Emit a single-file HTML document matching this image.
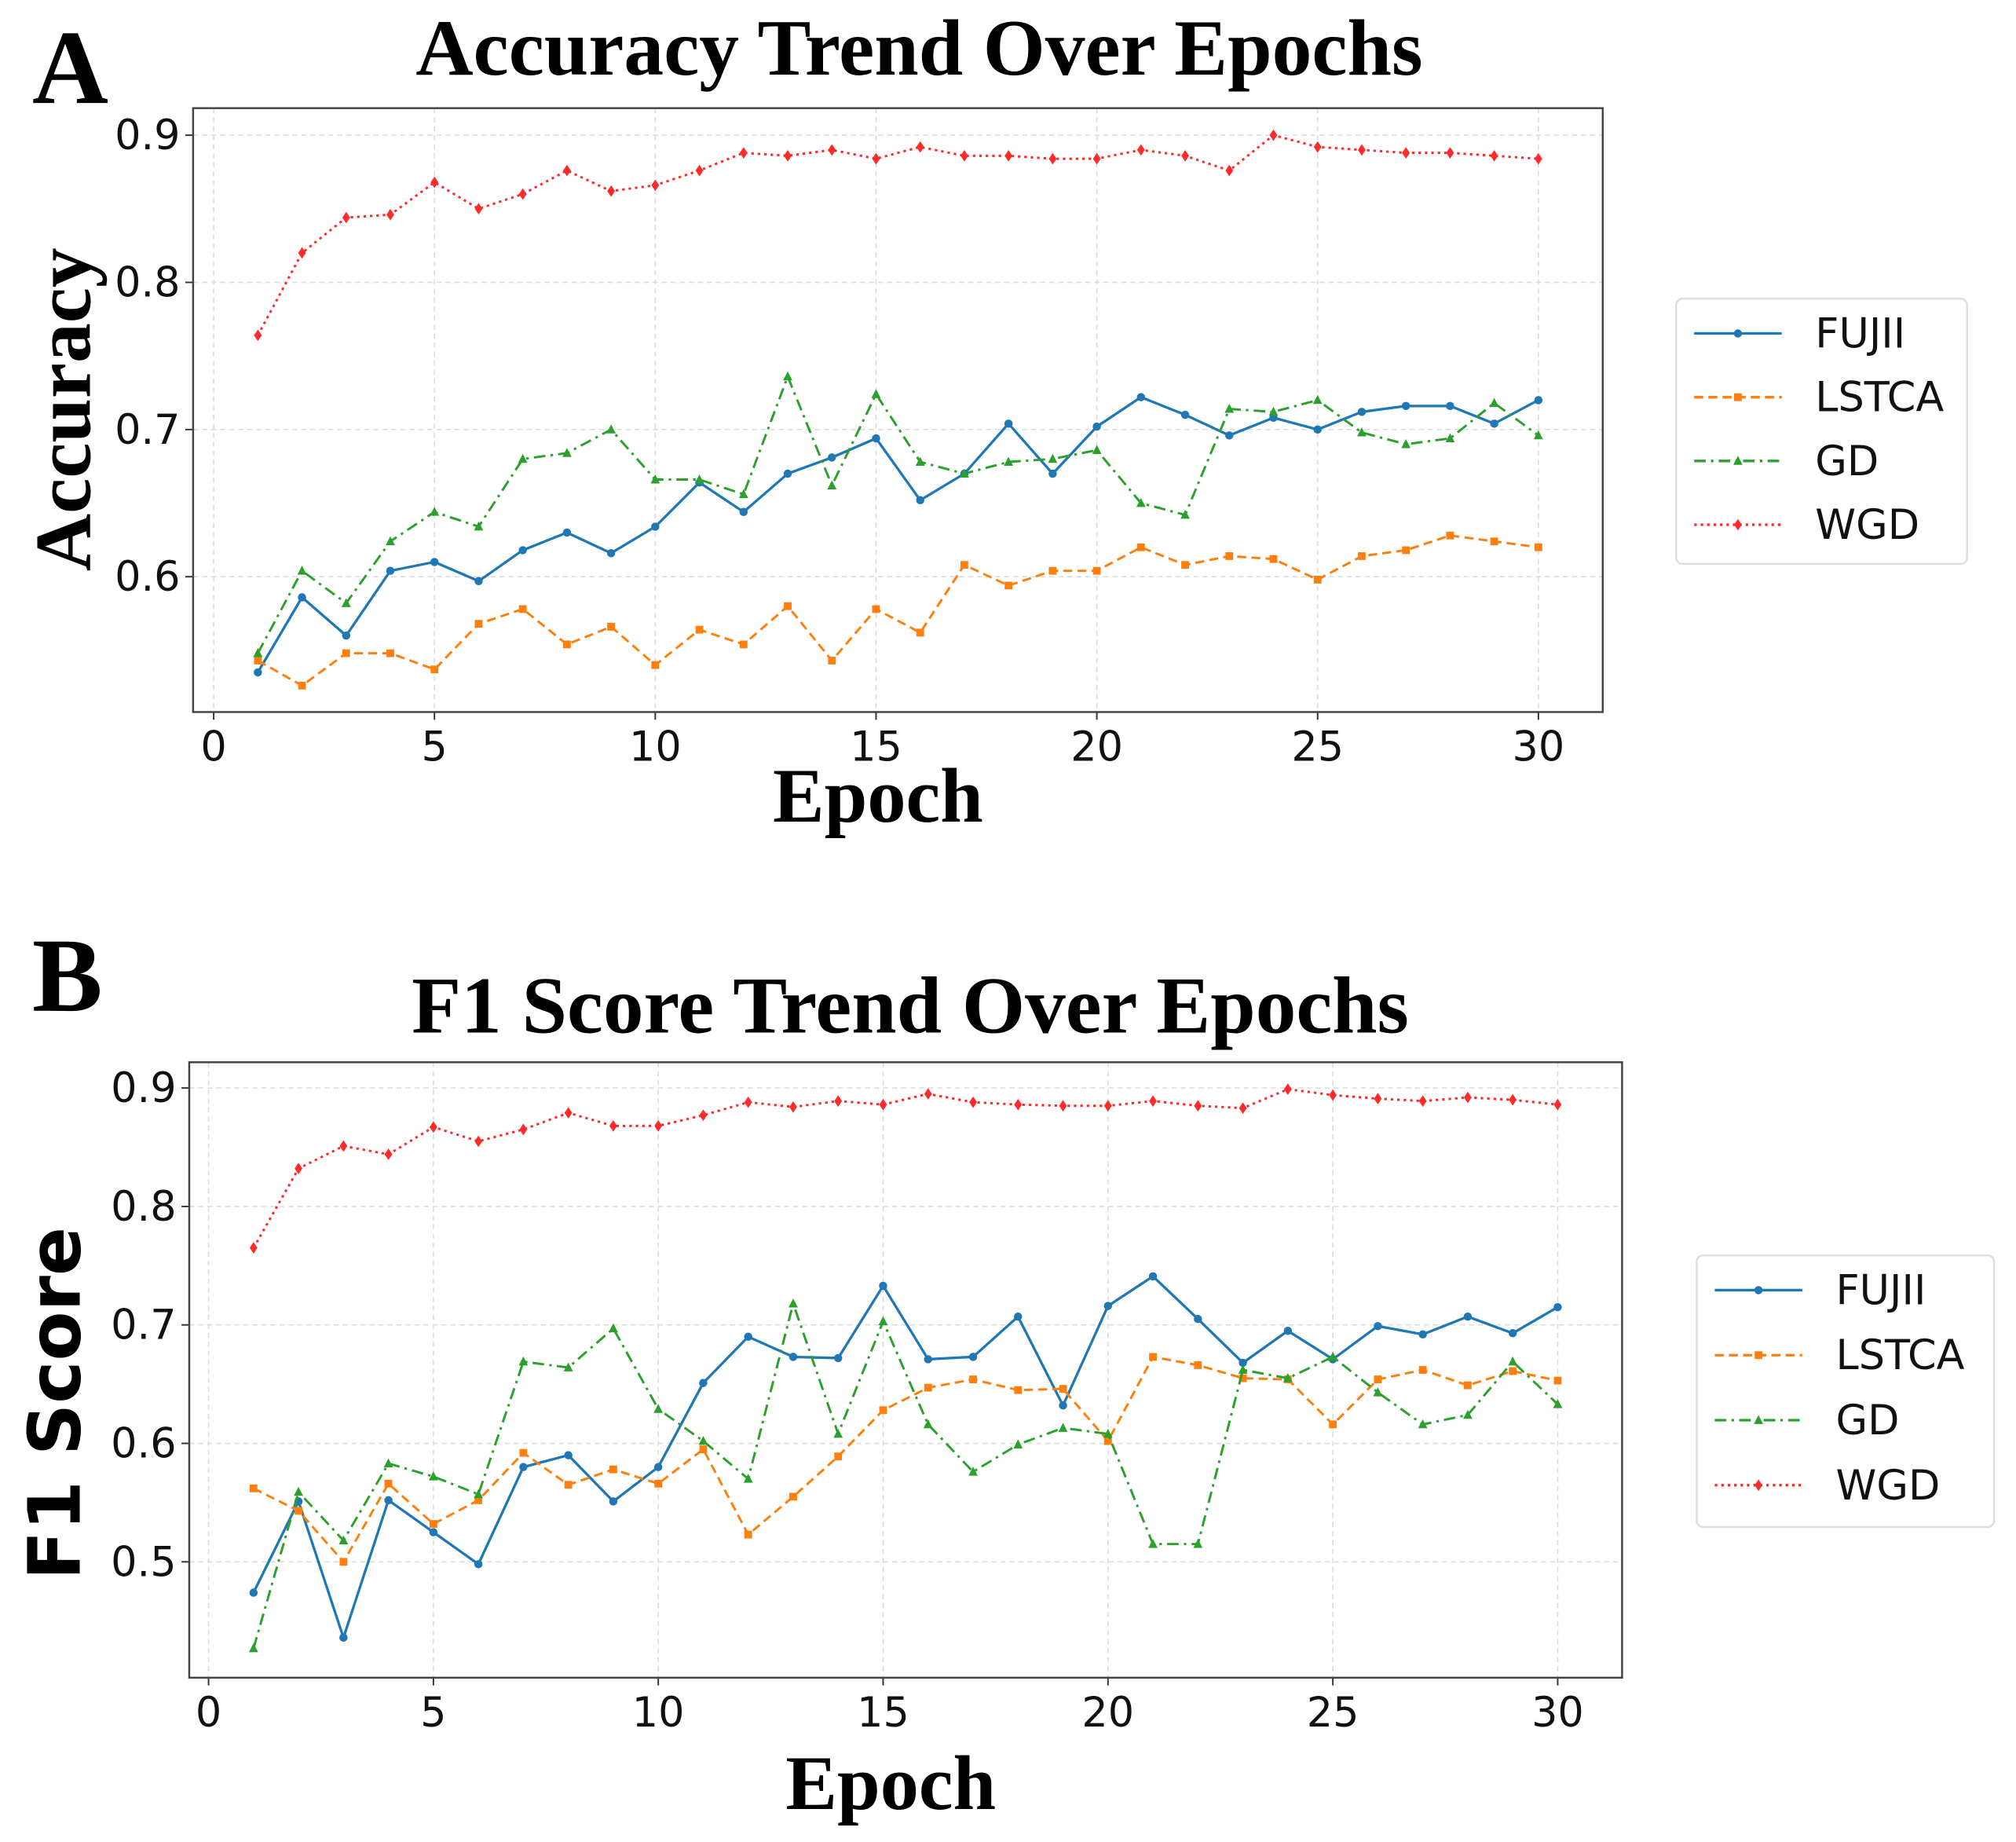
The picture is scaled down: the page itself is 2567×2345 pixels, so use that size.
<!DOCTYPE html>
<html><head><meta charset="utf-8"><style>
html,body{margin:0;padding:0;background:#fff;width:2567px;height:2345px;overflow:hidden}
svg{display:block}
.tk{font-family:"DejaVu Sans","Liberation Sans",sans-serif;font-size:32px;fill:#111}
.lg{font-family:"DejaVu Sans","Liberation Sans",sans-serif;font-size:32px;fill:#111}
.ser{font-family:"Liberation Serif",serif;font-weight:bold;fill:#000}
</style></head><body>
<svg id="fig" width="2567" height="2345" viewBox="0 0 1566 1430.6" preserveAspectRatio="none" xmlns="http://www.w3.org/2000/svg">
<rect width="1566" height="1431" fill="#fff"/>
<text class="ser" x="25" y="80" font-size="82">A</text>
<text class="ser" x="714" y="58" font-size="62" text-anchor="middle">Accuracy Trend Over Epochs</text>
<text class="ser" x="0" y="0" font-size="62" text-anchor="middle" transform="translate(70,318) rotate(-90)">Accuracy</text>
<text class="ser" x="682" y="638" font-size="60" text-anchor="middle">Epoch</text>
<text class="ser" x="25" y="785" font-size="82">B</text>
<text class="ser" x="707" y="802" font-size="63" text-anchor="middle">F1 Score Trend Over Epochs</text>
<text x="0" y="0" font-size="56" font-weight="bold" font-family="DejaVu Sans, sans-serif" text-anchor="middle" transform="translate(62,1090) rotate(-90)">F1 Score</text>
<text class="ser" x="692" y="1405" font-size="60" text-anchor="middle">Epoch</text>
<g id="A"></g><g id="B"></g>
</svg>
<script>
const epochs = Array.from({length:30},(_,i)=>i+1);
const seriesNames = ["FUJII","LSTCA","GD","WGD"];
const accFUJII=[.535,.586,.56,.604,.61,.597,.618,.63,.616,.634,.664,.644,.67,.681,.694,.652,.67,.704,.67,.702,.722,.71,.696,.708,.7,.712,.716,.716,.704,.72];
const accLSTCA=[.543,.526,.548,.548,.537,.568,.578,.554,.566,.54,.564,.554,.58,.543,.578,.562,.608,.594,.604,.604,.62,.608,.614,.612,.598,.614,.618,.628,.624,.62];
const accGD=[.548,.604,.582,.624,.644,.634,.68,.684,.7,.666,.666,.656,.736,.662,.724,.678,.67,.678,.68,.686,.65,.642,.714,.712,.72,.698,.69,.694,.718,.696];
const accWGD=[.764,.82,.844,.846,.868,.85,.86,.876,.862,.866,.876,.888,.886,.89,.884,.892,.886,.886,.884,.884,.89,.886,.876,.9,.892,.89,.888,.888,.886,.884];
const f1FUJII=[.474,.551,.436,.552,.525,.498,.580,.590,.551,.580,.651,.690,.673,.672,.733,.671,.673,.707,.632,.716,.741,.705,.668,.695,.671,.699,.692,.707,.693,.715];
const f1LSTCA=[.562,.543,.500,.566,.532,.552,.592,.565,.578,.566,.595,.523,.555,.589,.628,.647,.654,.645,.646,.602,.673,.666,.655,.654,.616,.654,.662,.649,.661,.653];
const f1GD=[.427,.559,.518,.583,.572,.557,.669,.664,.697,.629,.602,.570,.718,.608,.703,.616,.576,.599,.613,.608,.515,.515,.662,.655,.673,.643,.616,.624,.669,.633];
const f1WGD=[.765,.832,.851,.844,.867,.855,.865,.879,.868,.868,.877,.888,.884,.889,.886,.895,.888,.886,.885,.885,.889,.885,.883,.899,.894,.891,.889,.892,.890,.886];
const xTicks=[0,5,10,15,20,25,30];
const yTicksA=[0.6,0.7,0.8,0.9];
const yTicksB=[0.5,0.6,0.7,0.8,0.9];
const NS="http://www.w3.org/2000/svg";
const colors=["#1f77b4","#ff7f0e","#2ca02c","#ff2a2a"];
const dashes=["","7,4","9,4,2,4","2,3"];
function mk(p,tag,at){const e=document.createElementNS(NS,tag);for(const k in at)e.setAttribute(k,at[k]);p.appendChild(e);return e;}
function marker(g,c,x,y,k){
  if(k===0)return mk(g,"circle",{cx:x,cy:y,r:3.2,fill:c});
  if(k===1)return mk(g,"rect",{x:x-3,y:y-3,width:6,height:6,fill:c});
  if(k===2)return mk(g,"polygon",{points:`${x},${y-4} ${x-3.6},${y+3} ${x+3.6},${y+3}`,fill:c});
  return mk(g,"polygon",{points:`${x},${y-4.5} ${x+3},${y} ${x},${y+4.5} ${x-3},${y}`,fill:c});
}
function draw(id,cfg,data,yTicks){
  const g=document.getElementById(id);
  const X=e=>cfg.x0+e*(cfg.x30-cfg.x0)/30;
  const Y=v=>cfg.yTop+(cfg.vTop-v)*cfg.k;
  for(const t of xTicks){
    const l=mk(g,"line",{x1:X(t),x2:X(t),y1:cfg.t,y2:cfg.b,stroke:"#ddd","stroke-width":1,"stroke-dasharray":"4,3"});
    
    
    mk(g,"line",{x1:X(t),x2:X(t),y1:cfg.b,y2:cfg.b+6,stroke:"#333","stroke-width":1.2});
    const tx=mk(g,"text",{x:X(t),y:cfg.b+38,"text-anchor":"middle",class:"tk"});tx.textContent=t;
    
    
  }
  for(const t of yTicks){
    const l=mk(g,"line",{x1:cfg.l,x2:cfg.r,y1:Y(t),y2:Y(t),stroke:"#ddd","stroke-width":1,"stroke-dasharray":"4,3"});
    
    
    mk(g,"line",{x1:cfg.l-6,x2:cfg.l,y1:Y(t),y2:Y(t),stroke:"#333","stroke-width":1.2});
    const tx=mk(g,"text",{x:cfg.l-10,y:Y(t)+11,"text-anchor":"end",class:"tk"});tx.textContent=t.toFixed(1);
    
    
  }
  const fr=mk(g,"rect",{x:cfg.l,y:cfg.t,width:cfg.r-cfg.l,height:cfg.b-cfg.t,fill:"none",stroke:"#444","stroke-width":1.5});
  
  
  data.forEach((arr,k)=>{
    const sg=mk(g,"g",{});
    
    
    const pts=arr.map((v,i)=>X(epochs[i])+","+Y(v)).join(" ");
    const pl=mk(sg,"polyline",{points:pts,fill:"none",stroke:colors[k],"stroke-width":k===0?2:1.8,"stroke-dasharray":dashes[k]});
    
    
    arr.forEach((v,i)=>{const m=marker(sg,colors[k],X(epochs[i]),Y(v),k);
      
      });
  });
  const lg=mk(g,"g",{});
  
  
  mk(lg,"rect",{x:cfg.lgx,y:cfg.lgy,width:cfg.lgw,height:cfg.lgh,rx:5,fill:"#fff",stroke:"#ddd","stroke-width":1.5});
  seriesNames.forEach((n,k)=>{
    const yy=cfg.lgy+27+k*cfg.lgs;
    const e=mk(lg,"g",{});
    
    
    mk(e,"line",{x1:cfg.lgx+14,x2:cfg.lgx+82,y1:yy,y2:yy,stroke:colors[k],"stroke-width":2,"stroke-dasharray":dashes[k]});
    marker(e,colors[k],cfg.lgx+48,yy,k);
    const t=mk(e,"text",{x:cfg.lgx+108,y:yy+11,class:"lg"});t.textContent=n;
  });
}
draw("A",{l:150,r:1245,t:84,b:553,x0:166,x30:1195,yTop:105,vTop:0.9,k:1143,lgx:1302,lgy:232,lgw:226,lgh:206,lgs:49.5},[accFUJII,accLSTCA,accGD,accWGD],yTicksA);
draw("B",{l:147,r:1260,t:825,b:1303,x0:162,x30:1210,yTop:845,vTop:0.9,k:920,lgx:1318,lgy:975,lgw:231,lgh:211,lgs:50.5},[f1FUJII,f1LSTCA,f1GD,f1WGD],yTicksB);
</script>
</body></html>
